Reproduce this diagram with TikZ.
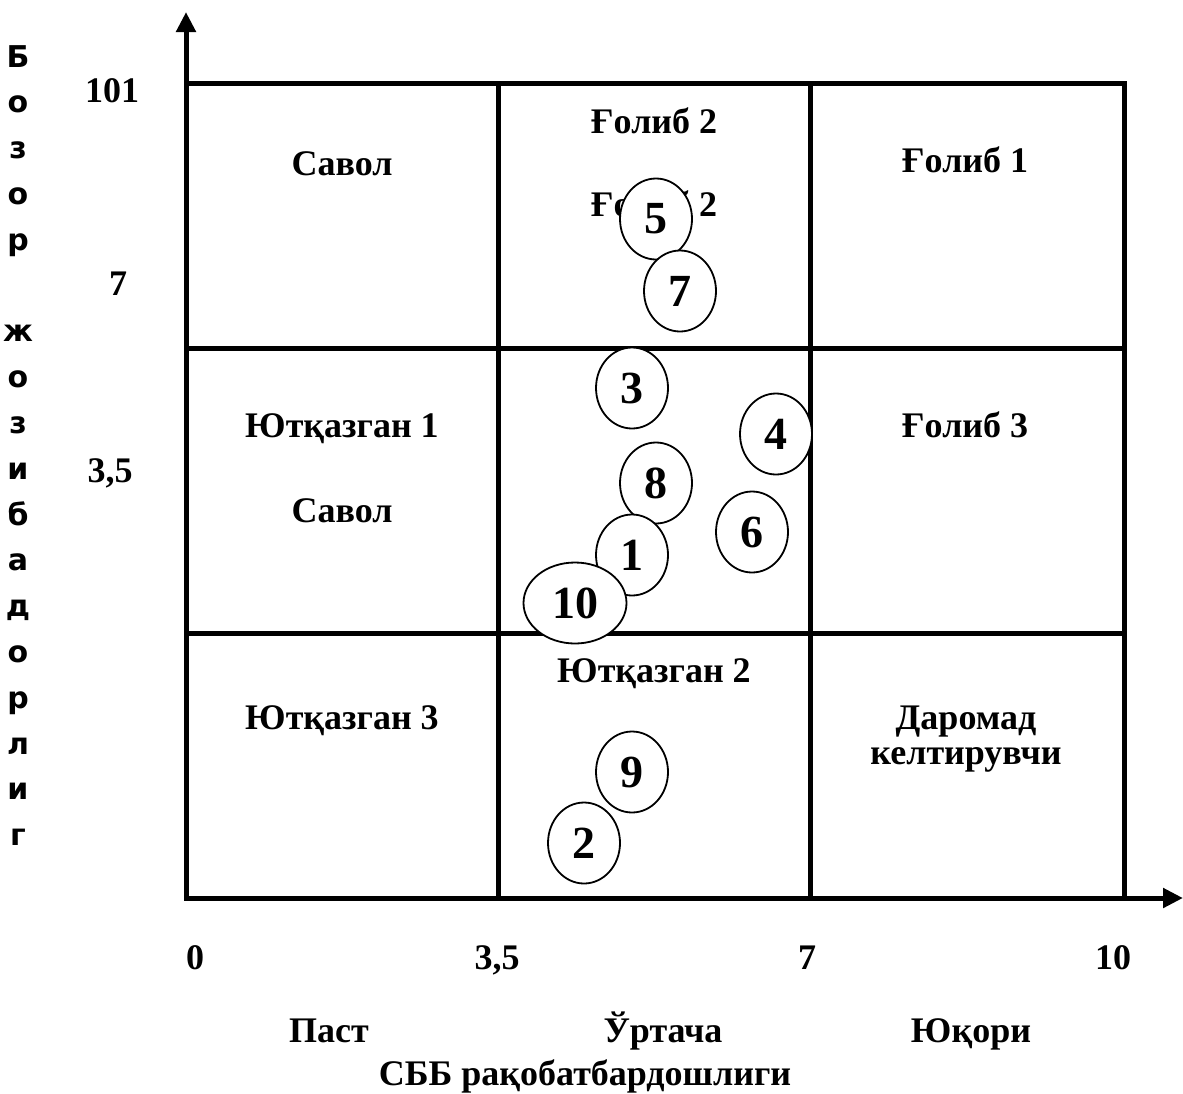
\documentclass[tikz,border=0pt]{standalone}
\usepackage{fontspec}
\setmainfont{Liberation Serif}
\newfontfamily\sanslet{DejaVu Sans}
\usetikzlibrary{arrows.meta,shapes.geometric}
\begin{document}
\begin{tikzpicture}[x=1pt,y=-1pt,
  gridline/.style={line width=5pt},
  axisline/.style={line width=5pt,-{Triangle[length=20pt,width=19pt]}},
  lab/.style={font=\fontsize{36}{40}\selectfont\bfseries, inner sep=0pt, anchor=base},
  vlet/.style={font=\sanslet\fontsize{30}{34}\selectfont\bfseries, inner sep=0pt, anchor=base},
  pnt/.style={ellipse, draw, fill=white, line width=1.8pt, minimum width=72pt,
    minimum height=81pt, inner sep=0pt, font=\fontsize{46}{50}\selectfont\bfseries},
  widepnt/.style={pnt, minimum width=103pt}]
\useasboundingbox (0,0) rectangle (1183,1093);
% axes
\coordinate (O) at (186,900);
\coordinate (ytip) at (186,12);
\coordinate (xs) at (184,898);
\coordinate (xtip) at (1183,898);
\draw[axisline] (O) -- (ytip);
\draw[axisline] (xs) -- (xtip);
% grid
\draw[gridline] (186,83) rectangle (1124,898);
\draw[gridline] (498,83) -- (498,898);
\draw[gridline] (810,83) -- (810,898);
\draw[gridline] (186,348) -- (1124,348);
\draw[gridline] (186,633) -- (1124,633);
% y tick labels
\node[lab] (y101) at (112,102) {101};
\node[lab] (y7) at (118,295) {7};
\node[lab] (y35) at (110,482) {3,5};
% x tick labels
\node[lab] (x0) at (195,969) {0};
\node[lab] (x35) at (497,969) {3,5};
\node[lab] (x7) at (807,969) {7};
\node[lab] (x10) at (1113,969) {10};
\node[lab] (past) at (329,1042) {Паст};
\node[lab] (urt) at (663,1042) {Ўртача};
\node[lab] (yuq) at (971,1042) {Юқори};
\node[lab] (sbb) at (585,1085) {СББ рақобатбардошлиги};
% vertical axis title
\foreach \ch/\k [count=\i] in {Б/0,о/1,з/2,о/3,р/4,ж/6,о/7,з/8,и/9,б/10,а/11,д/12,о/13,р/14,л/15,и/16,г/17}
  \node[vlet] (v\i) at (18,67+45.8*\k) {\ch};
% cell labels
\node[lab] (g2a) at (654,133) {Ғолиб 2};
\node[lab] (g2b) at (654,216) {Ғолиб 2};
\node[lab] (sav1) at (342,175) {Савол};
\node[lab] (g1) at (965,172) {Ғолиб 1};
\node[lab] (yut1) at (342,437) {Ютқазган 1};
\node[lab] (sav2) at (342,522) {Савол};
\node[lab] (g3) at (965,437) {Ғолиб 3};
\node[lab] (yut2) at (654,682) {Ютқазган 2};
\node[lab] (yut3) at (342,729) {Ютқазган 3};
\node[lab] (dar) at (966,729) {Даромад};
\node[lab] (kel) at (966,764) {келтирувчи};
% points
\node[pnt] (p5) at (656,219) {5};
\node[pnt] (p7) at (680,291) {7};
\node[pnt] (p3) at (632,388) {3};
\node[pnt] (p4) at (776,434) {4};
\node[pnt] (p8) at (656,483) {8};
\node[pnt] (p6) at (752,532) {6};
\node[pnt] (p1) at (632,555) {1};
\node[widepnt] (p10) at (575,603) {10};
\node[pnt] (p9) at (632,772) {9};
\node[pnt] (p2) at (584,843) {2};
\end{tikzpicture}
\end{document}
